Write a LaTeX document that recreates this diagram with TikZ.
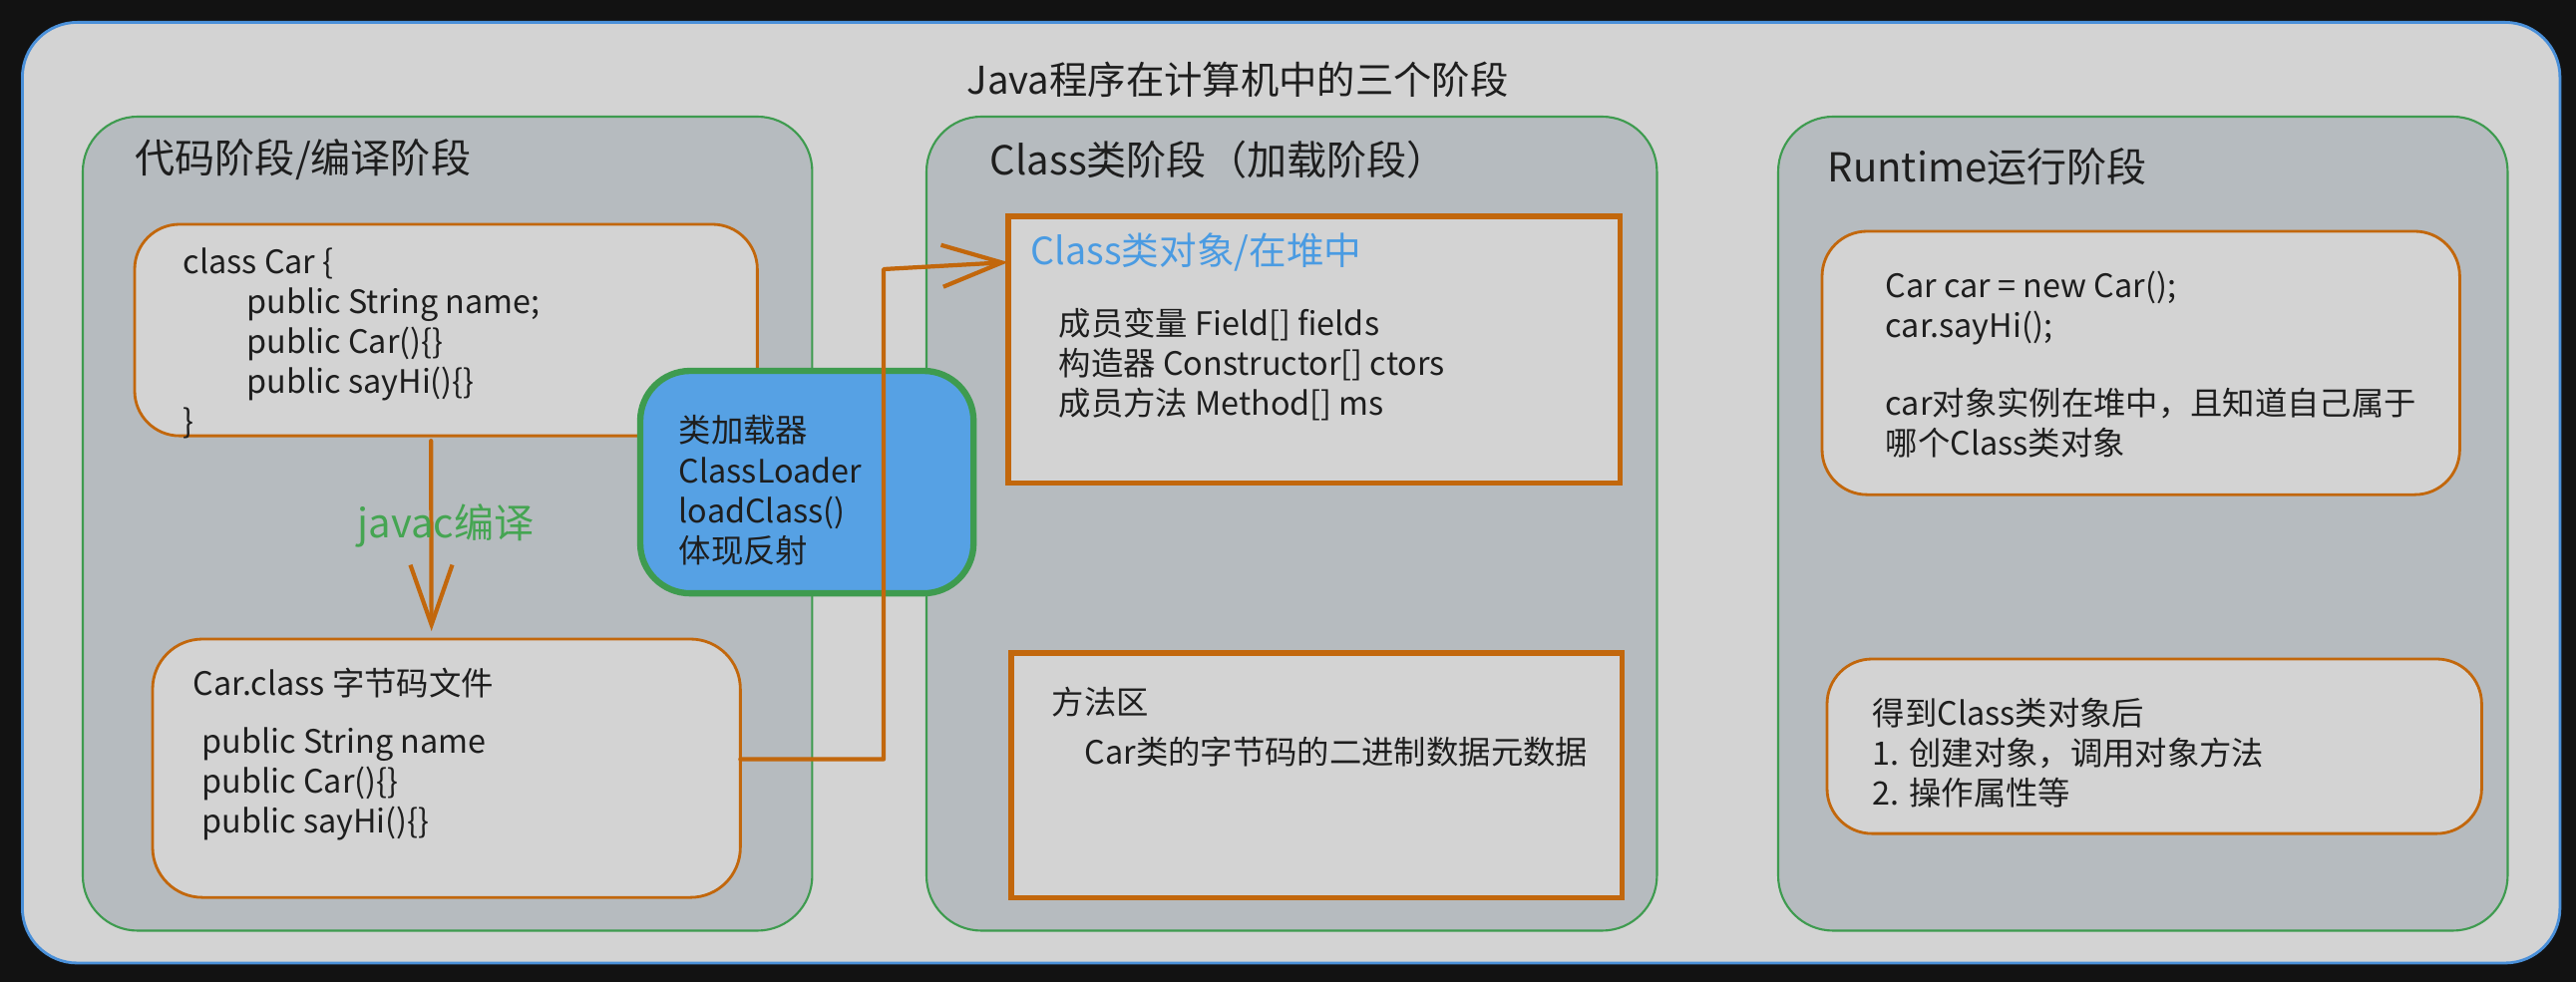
\documentclass[tikz,border=0pt]{standalone}
\usepackage{fontspec}
\setmainfont{Noto Sans CJK SC}
\usetikzlibrary{arrows.meta}

\definecolor{bgdark}{HTML}{121212}
\definecolor{paper}{HTML}{D3D3D3}
\definecolor{panelgray}{HTML}{B6BBBF}
\definecolor{frameblue}{HTML}{4A90D9}
\definecolor{stagegreen}{HTML}{3E9B4F}
\definecolor{codeorange}{HTML}{C2670C}
\definecolor{loaderblue}{HTML}{56A1E4}
\definecolor{heapblue}{HTML}{4A9BE2}
\definecolor{inkblack}{HTML}{1E1E1E}
\definecolor{javacgreen}{HTML}{45A552}

\tikzset{
	stage/.style={draw=stagegreen, line width=0.6pt, fill=panelgray, rounded corners=0.55cm, anchor=north west, inner sep=0pt, outer sep=0pt},
	roundbox/.style={draw=codeorange, line width=0.8pt, fill=paper, rounded corners=0.45cm, anchor=north west, inner sep=0pt, outer sep=0pt},
	heapbox/.style={draw=codeorange, line width=1.5pt, fill=paper, anchor=north west, inner sep=0pt, outer sep=0pt},
	loaderbox/.style={draw=stagegreen, line width=1.8pt, fill=loaderblue, rounded corners=0.5cm, anchor=north west, inner sep=0pt, outer sep=0pt},
	bodytext/.style={anchor=north west, inner sep=0pt, align=left, text=inkblack, font=\fontsize{9.2pt}{11.4pt}\selectfont},
	linetext/.style={anchor=west, inner sep=0pt, text=inkblack, font=\fontsize{9.2pt}{11.4pt}\selectfont},
	headtext/.style={anchor=west, inner sep=0pt, text=inkblack, font=\fontsize{11.4pt}{13pt}\selectfont},
	link/.style={draw=codeorange, line width=1.2pt, line cap=round, line join=round, -{Straight Barb[length=0.6cm, width=0.42cm]}},
}

\begin{document}
\begin{tikzpicture}[x=0.01cm, y=-0.01cm]
			%%%%% START %%%%%
			
			\fill[bgdark] (0, 0) rectangle (2583, 985);
			\useasboundingbox (0, 0) rectangle (2583, 985);
			
			\node[draw=frameblue, line width=0.8pt, fill=paper, rounded corners=0.55cm, anchor=north west, inner sep=0pt, minimum width=25.43cm, minimum height=9.43cm] (frame) at (21, 21) {};
			\node[font=\fontsize{10.9pt}{12pt}\selectfont, text=inkblack] (title) at (1241, 80) {Java程序在计算机中的三个阶段};
			
			\node[stage, minimum width=7.31cm, minimum height=8.16cm] (codestage) at (83, 117) {};
			\node[stage, minimum width=7.32cm, minimum height=8.16cm] (classstage) at (929, 117) {};
			\node[stage, minimum width=7.31cm, minimum height=8.16cm] (runstage) at (1783, 117) {};
			
			\node[headtext] (codehead) at (135, 160) {代码阶段/编译阶段};
			\node[headtext] (classhead) at (992, 160) {Class类阶段（加载阶段）};
			\node[headtext] (runhead) at (1832, 167) {Runtime运行阶段};
			
			% code stage
			\node[roundbox, minimum width=6.24cm, minimum height=2.12cm] (source) at (135, 225) {};
			\node[bodytext] (sourcecode) at (183, 248) {class Car \{\\
				\hspace*{0.64cm}public String name;\\
				\hspace*{0.64cm}public Car()\{\}\\
				\hspace*{0.64cm}public sayHi()\{\}\\
				\}};
			
			\node[roundbox, rounded corners=0.5cm, minimum width=5.89cm, minimum height=2.59cm] (bytecode) at (153, 641) {};
			\node[linetext] (bytecodehead) at (193, 685) {Car.class 字节码文件};
			\node[bodytext] (bytecodebody) at (202, 729) {public String name\\
				public Car()\{\}\\
				public sayHi()\{\}};
			
			\draw[link] ([xshift=-0.15cm, yshift=-0.05cm]source.south) -- ([xshift=-0.15cm, yshift=0.08cm]bytecode.north);
			\node[text=javacgreen, font=\fontsize{11.4pt}{12pt}\selectfont, inner sep=0pt] (javac) at (447, 527) {javac编译};
			
			% class stage
			\node[heapbox, minimum width=6.13cm, minimum height=2.67cm] (heap) at (1011, 217) {};
			\node[anchor=west, inner sep=0pt, text=heapblue, font=\fontsize{10.7pt}{12pt}\selectfont] (heaphead) at (1033, 253) {Class类对象/在堆中};
			\node[bodytext] (heapbody) at (1061, 308) {成员变量 Field[] fields\\
				构造器 Constructor[] ctors\\
				成员方法 Method[] ms};
			
			\node[heapbox, minimum width=6.12cm, minimum height=2.45cm] (methodarea) at (1014, 655) {};
			\node[linetext] (methodhead) at (1054, 704) {方法区};
			\node[linetext] (methodbody) at (1087, 754) {Car类的字节码的二进制数据元数据};
			
			% runtime stage
			\node[roundbox, minimum width=6.39cm, minimum height=2.64cm] (instance) at (1827, 232) {};
			\node[bodytext] (instancebody) at (1890, 271) {Car car = new Car();\\
				car.sayHi();\\[0.38cm]
				car对象实例在堆中，且知道自己属于\\
				哪个Class类对象};
			
			\node[roundbox, minimum width=6.56cm, minimum height=1.75cm] (usage) at (1832, 661) {};
			\node[bodytext] (usagebody) at (1877, 699) {得到Class类对象后\\
				1. 创建对象，调用对象方法\\
				2. 操作属性等};
			
			% class loader
			\node[loaderbox, minimum width=3.34cm, minimum height=2.23cm] (loader) at (642, 372) {};
			\node[bodytext] (loaderbody) at (680, 416) {类加载器\\
				ClassLoader\\
				loadClass()\\
				体现反射};
			
			\coordinate (bend) at (886, 270);
			\draw[link] ([yshift=0.09cm]bytecode.east) -| (bend) -- ([yshift=-0.46cm]heap.north west);
			
			%%%%% END %%%%%
\end{tikzpicture}
\end{document}
